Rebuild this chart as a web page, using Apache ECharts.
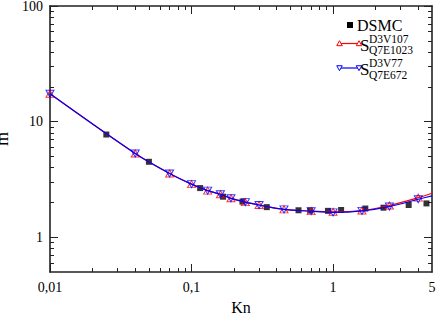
<!DOCTYPE html>
<html><head><meta charset="utf-8">
<script src="https://cdn.jsdelivr.net/npm/echarts@6/dist/echarts.min.js"></script>
<style>html,body{margin:0;padding:0;background:#fff}#c{width:436px;height:314px}</style>
</head><body><div id="c"></div>
<script>
// ---- data ----
const knSim = [0.01, 0.04, 0.07, 0.1, 0.13, 0.16, 0.19, 0.24, 0.3, 0.45, 0.7, 1.0, 1.6, 2.5, 4.0];
const sRed  = [17.4, 5.3, 3.56, 2.88, 2.53, 2.35, 2.17, 2.01, 1.90, 1.74, 1.68, 1.66, 1.70, 1.88, 2.20];
const sBlue = [17.4, 5.3, 3.56, 2.88, 2.53, 2.35, 2.17, 2.01, 1.90, 1.74, 1.68, 1.64, 1.69, 1.84, 2.13];
const knCurveEnd = [5];
const sRedEnd = [2.40];
const sBlueEnd = [2.28];
const knDsmc = [0.025, 0.05, 0.115, 0.167, 0.229, 0.34, 0.57, 0.69, 0.92, 1.14, 1.69, 2.27, 3.42, 4.57];
const dsmc   = [7.73, 4.49, 2.66, 2.24, 2.03, 1.82, 1.71, 1.70, 1.69, 1.72, 1.77, 1.80, 1.90, 1.96];
const xLabelTicks = [0.01, 0.1, 1, 5];
const xMajorTicks = [0.01, 0.1, 1];
const xMinorTicks = [0.02,0.03,0.04,0.05,0.06,0.07,0.08,0.09,0.2,0.3,0.4,0.5,0.6,0.7,0.8,0.9,2,3,4];
const yLabelTicks = [1, 10, 100];
const yMajorTicks = [1, 10, 100];
const yMinorTicks = [0.6,0.7,0.8,0.9,2,3,4,5,6,7,8,9,20,30,40,50,60,70,80,90];
const axisNames = ['Kn', '\u1E41'];
const legendNames = ['DSMC', 'S', 'D3V107', 'Q7E1023', 'S', 'D3V77', 'Q7E672'];

const FONT = 'Liberation Serif';
const AX = '#222';

function xAx(pos, ticks, len, showLine, showLabel) {
  return {
    type: 'log', logBase: 10, position: pos, min: 0.01, max: 5, gridIndex: 0,
    axisLine: { show: showLine, onZero: false, lineStyle: { color: AX, width: 1.6 } },
    axisTick: { show: true, inside: true, length: len, customValues: ticks, lineStyle: { color: AX, width: 1 } },
    axisLabel: { show: showLabel, customValues: xLabelTicks, margin: 8,
      fontFamily: FONT, fontSize: 14, color: '#000',
      formatter: v => String(v).replace('.', ',') },
    splitLine: { show: false }, minorTick: { show: false },
    name: showLabel ? axisNames[0] : '', nameLocation: 'middle', nameGap: 27,
    nameTextStyle: { fontFamily: FONT, fontSize: 16, color: '#000' }
  };
}
function yAx(pos, ticks, len, showLine, showLabel) {
  return {
    type: 'log', logBase: 10, position: pos, min: 0.5, max: 100, gridIndex: 0,
    axisLine: { show: showLine, onZero: false, lineStyle: { color: AX, width: 1.6 } },
    axisTick: { show: true, inside: true, length: len, customValues: ticks, lineStyle: { color: AX, width: 1 } },
    axisLabel: { show: showLabel, customValues: yLabelTicks, margin: 7,
      fontFamily: FONT, fontSize: 14, color: '#000',
      formatter: v => String(v) },
    splitLine: { show: false }, minorTick: { show: false },
    name: showLabel ? axisNames[1] : '', nameLocation: 'middle', nameGap: 30, nameRotate: 90,
    nameTextStyle: { fontFamily: FONT, fontSize: 18, color: '#000' }
  };
}

const redCurve = knSim.map((k, i) => [k, sRed[i]]).concat(knCurveEnd.map((k, i) => [k, sRedEnd[i]]));
const blueCurve = knSim.map((k, i) => [k, sBlue[i]]).concat(knCurveEnd.map((k, i) => [k, sBlueEnd[i]]));

const chart = echarts.init(document.getElementById('c'), null, { renderer: 'svg' });

function tri(cx, cy, s, down, color) {
  const h = s * 0.9;
  const pts = down
    ? [[cx - s / 2, cy - h / 2], [cx + s / 2, cy - h / 2], [cx, cy + h / 2]]
    : [[cx - s / 2, cy + h / 2], [cx + s / 2, cy + h / 2], [cx, cy - h / 2]];
  return { type: 'polygon', shape: { points: pts }, style: { fill: '#fff', stroke: color, lineWidth: 1 }, z: 100 };
}
function txt(x, y, t, size) {
  return { type: 'text', x: x, y: y, style: { text: t, fontSize: size, fontFamily: FONT, fill: '#000', align: 'left', verticalAlign: 'middle' }, z: 100 };
}

chart.setOption({
  animation: false,
  textStyle: { fontFamily: FONT },
  grid: { left: 50, right: 4, top: 6, bottom: 42, containLabel: false, outerBoundsMode: 'none' },
  xAxis: [
    xAx('bottom', xMinorTicks, 4, true, true),
    xAx('bottom', xMajorTicks, 8, false, false),
    xAx('top', xMinorTicks, 4, true, false),
    xAx('top', xMajorTicks, 8, false, false)
  ],
  yAxis: [
    yAx('left', yMinorTicks, 4, true, true),
    yAx('left', yMajorTicks, 8, false, false),
    yAx('right', yMinorTicks, 4, true, false),
    yAx('right', yMajorTicks, 8, false, false)
  ],
  series: [
    { type: 'scatter', name: legendNames[0], xAxisIndex: 0, yAxisIndex: 0, symbol: 'rect', symbolSize: 6,
      itemStyle: { color: '#000' }, data: knDsmc.map((k, i) => [k, dsmc[i]]), z: 2 },
    { type: 'line', xAxisIndex: 0, yAxisIndex: 0, data: redCurve, smooth: 0.3, showSymbol: false, symbol: 'none',
      lineStyle: { color: '#ff0000', width: 1.2 }, z: 3 },
    { type: 'scatter', xAxisIndex: 0, yAxisIndex: 0, data: knSim.map((k, i) => [k, sRed[i]]), symbol: 'triangle', symbolSize: [8, 7],
      itemStyle: { color: 'rgba(255,255,255,0)', borderColor: '#ff0000', borderWidth: 1 }, z: 4 },
    { type: 'line', xAxisIndex: 0, yAxisIndex: 0, data: blueCurve, smooth: 0.3, showSymbol: false, symbol: 'none',
      lineStyle: { color: '#0000ff', width: 1.2 }, z: 5 },
    { type: 'scatter', xAxisIndex: 0, yAxisIndex: 0, data: knSim.map((k, i) => [k, sBlue[i]]), symbol: 'triangle', symbolRotate: 180, symbolSize: [8, 7],
      itemStyle: { color: 'rgba(255,255,255,0)', borderColor: '#0000ff', borderWidth: 1 }, z: 6 }
  ],
  graphic: [
    { type: 'rect', shape: { x: 347, y: 22, width: 6, height: 6 }, style: { fill: '#000' }, z: 100 },
    txt(357, 25, legendNames[0], 16),
    { type: 'line', shape: { x1: 339.5, y1: 43.5, x2: 359, y2: 43.5 }, style: { stroke: '#ff0000', lineWidth: 1.2 }, z: 99 },
    tri(339.5, 43.2, 5.5, false, '#ff0000'),
    tri(359, 43.2, 5.5, false, '#ff0000'),
    txt(360, 45, legendNames[1], 17),
    txt(369, 38.5, legendNames[2], 11.5),
    txt(369, 50, legendNames[3], 11.5),
    { type: 'line', shape: { x1: 339.5, y1: 68, x2: 359, y2: 68 }, style: { stroke: '#0000ff', lineWidth: 1.2 }, z: 99 },
    tri(339.5, 68.2, 5.5, true, '#0000ff'),
    tri(359, 68.2, 5.5, true, '#0000ff'),
    txt(360, 69, legendNames[4], 17),
    txt(369, 63, legendNames[5], 11.5),
    txt(369, 74.5, legendNames[6], 11.5)
  ]
});
</script></body></html>
